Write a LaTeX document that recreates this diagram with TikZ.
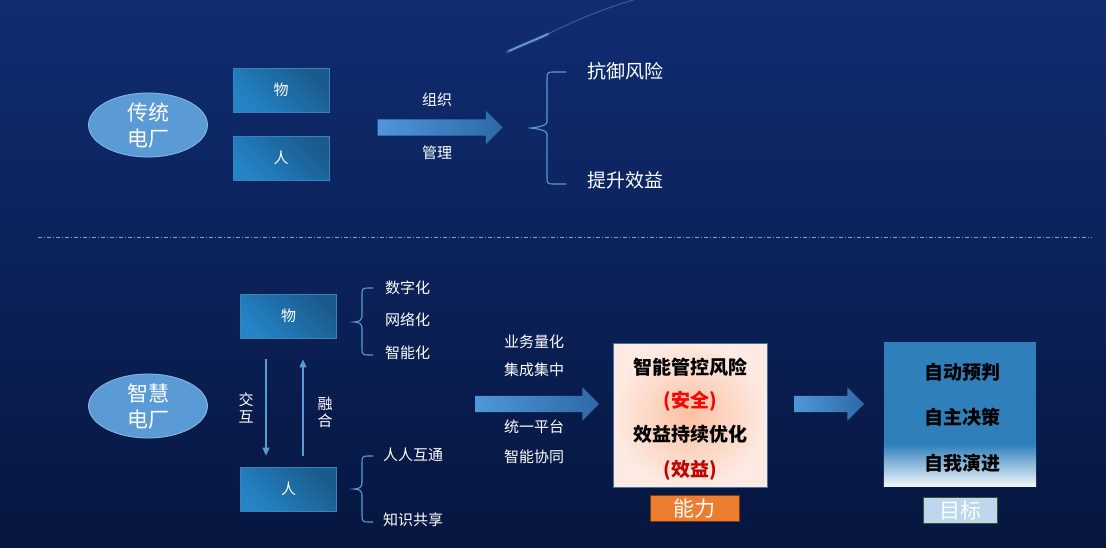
\documentclass[tikz,border=0pt]{standalone}
\usepackage{fontspec}
\setmainfont{Noto Sans CJK SC}
\usetikzlibrary{shapes.geometric,shapes.arrows,arrows.meta}

\definecolor{bgtop}{HTML}{102D72}
\definecolor{bgmid}{HTML}{0B2360}
\definecolor{bgbot}{HTML}{06163F}
\definecolor{ovalblue}{HTML}{5B9BD5}
\definecolor{ovaledge}{HTML}{8DB8E4}
\definecolor{boxlight}{HTML}{2484C6}
\definecolor{boxdark}{HTML}{1A5A8C}
\definecolor{boxedge}{HTML}{3F7FBA}
\definecolor{arrlight}{HTML}{4F97D8}
\definecolor{arrdark}{HTML}{2D68A6}
\definecolor{bracecol}{HTML}{5B9BD5}
\definecolor{peachin}{HTML}{FCC1A3}
\definecolor{peachout}{HTML}{FDEAE2}
\definecolor{peachedge}{HTML}{4A70A0}
\definecolor{goalblue}{HTML}{2E7FBA}
\definecolor{goalfade}{HTML}{F2F6FB}
\definecolor{orangelab}{HTML}{ED7D31}
\definecolor{orangeedge}{HTML}{7A3A10}
\definecolor{paleblue}{HTML}{BDD7EE}
\definecolor{greenedge}{HTML}{385723}
\definecolor{darkredtxt}{HTML}{C00000}
\definecolor{septxt}{HTML}{6FA8DC}

\newcommand{\fs}[1]{\fontsize{#1}{#1}\selectfont}
\newcommand{\fsl}[2]{\fontsize{#1}{#2}\selectfont}
% curly bracket opening to the right: end x, spine x, tip x, top y, tip y, bottom y
\newcommand{\curlbrace}[6]{%
  (#1,#4) -- ({#2+6},#4) .. controls ({#2+1},#4) and (#2,{#4+1}) .. (#2,{#4+6})
  -- (#2,{#5-6}) .. controls (#2,{#5-2}) and ({#3+5},#5) .. (#3,#5)
  .. controls ({#3+5},#5) and (#2,{#5+2}) .. (#2,{#5+6})
  -- (#2,{#6-6}) .. controls (#2,{#6-1}) and ({#2+1},#6) .. ({#2+6},#6) -- (#1,#6)}

\begin{document}
\begin{tikzpicture}[x=1pt, y=-1pt,
  plant/.style={ellipse, fill=ovalblue, draw=ovaledge, line width=0.8pt,
    minimum width=119pt, minimum height=57pt, inner sep=0pt,
    text=white, font=\fsl{21}{26}, align=center},
  thingbox/.style={rectangle, draw=boxedge, line width=0.8pt,
    top color=boxdark, bottom color=boxlight, shading angle=-45,
    minimum width=96pt, minimum height=44pt, text=white, font=\fs{15}},
  bigarrow/.style={single arrow, single arrow head extend=8.5pt,
    inner xsep=0pt, inner ysep=8pt, minimum width=33pt,
    left color=arrlight, right color=arrdark, draw=none},
  wtxt/.style={text=white, font=\fs{15}, inner sep=0pt},
  btxt/.style={text=black, font=\bfseries\fs{19}, inner sep=0pt},
  brc/.style={draw=bracecol, line width=1.1pt},
  thinarr/.style={draw=ovalblue, line width=1.1pt, -{Triangle[width=7pt,length=8pt]}},
  tag/.style={rectangle, line width=0.8pt, minimum width=#1, minimum height=26pt,
    inner sep=0pt, text=white, font=\fs{21}}
]
\useasboundingbox (0,0) rectangle (1106,547);
% background
\shade[top color=bgtop, middle color=bgmid, bottom color=bgbot] (0,0) rectangle (1106,547);
\draw[line width=1pt, draw=ovaledge, opacity=0.35] (540,38) .. controls (575,20) and (605,8) .. (640,-2);
\draw[line width=3.5pt, draw=ovalblue, opacity=0.3, line cap=round] (507,52) .. controls (522,45) and (535,40) .. (548,34);
\draw[line width=1.4pt, draw=ovaledge, opacity=0.8, line cap=round] (509,51) .. controls (522,45) and (535,40) .. (548,34);

%% traditional plant
\node[plant] (plantA) at (148,125) {传统\\电厂};
\node[thingbox] (wuA) at (281,90) {物};
\node[thingbox] (renA) at (281,158) {人};
\node[bigarrow, minimum height=125pt] (arrA) at (436,127.5) {};
\node[wtxt] (orgA) at (437,100) {组织};
\node[wtxt] (mgtA) at (437,153) {管理};
\draw[brc] \curlbrace{566}{547}{529}{72}{128}{184};
\node[wtxt, font=\fs{19}] (riskA) at (625,71) {抗御风险};
\node[wtxt, font=\fs{19}] (gainA) at (625,180) {提升效益};

% separator
\draw[draw=septxt, line width=0.8pt, dash pattern=on 4pt off 2pt on 1pt off 2pt] (38,237) -- (1092,237);

%% smart plant
\node[plant] (plantB) at (148,406) {智慧\\电厂};
\node[thingbox] (wuB) at (288.5,316) {物};
\node[thingbox] (renB) at (288.5,489) {人};
\draw[thinarr] ([xshift=-22.5pt,yshift=-21pt]wuB.south) -- ([xshift=-22.5pt,yshift=11pt]renB.north);
\draw[thinarr] ([xshift=14.5pt,yshift=11pt]renB.north) -- ([xshift=14.5pt,yshift=-21pt]wuB.south);
\node[wtxt, font=\fsl{15}{17}, align=center] (jiaohu) at (246,408) {交\\互};
\node[wtxt, font=\fsl{15}{17}, align=center] (ronghe) at (325,412) {融\\合};

\draw[brc] \curlbrace{373}{362}{354}{288}{322}{355};
\node[wtxt, anchor=west] (digi) at (385,288) {数字化};
\node[wtxt, anchor=west] (netw) at (385,320) {网络化};
\node[wtxt, anchor=west] (intel) at (385,353) {智能化};
\draw[brc] \curlbrace{373}{362}{354}{456}{489}{522};
\node[wtxt, anchor=west] (talk) at (383,455) {人人互通};
\node[wtxt, anchor=west] (share) at (383,520) {知识共享};

\node[wtxt] (quant) at (534,342) {业务量化};
\node[wtxt] (integ) at (534,370) {集成集中};
\node[bigarrow, minimum height=124pt] (arrB) at (533,404) {};
\node[wtxt] (platf) at (534,427) {统一平台};
\node[wtxt] (coop) at (534,457) {智能协同};

% ability
\node[rectangle, draw=peachedge, line width=0.6pt, inner color=peachin, outer color=peachout,
  minimum width=154pt, minimum height=144pt] (ability) at (690,415) {};
\node[btxt] (ctrl) at (690,367) {智能管控风险};
\node[btxt, text=red] (safe) at (690,401) {(安全)};
\node[btxt] (optim) at (690,434) {效益持续优化};
\node[btxt, text=darkredtxt] (eff) at (690,470) {(效益)};
\node[tag=89pt, fill=orangelab, draw=orangeedge] (abilityLab) at (694.5,508.5) {能力};

\node[bigarrow, minimum height=70pt] (arrC) at (825,404) {};

% goal
\node[rectangle, fill=goalblue, minimum width=152pt, minimum height=144pt, inner sep=0pt] (goal) at (960,414) {};
\shade[top color=goalblue, bottom color=goalfade] ([yshift=-30pt]goal.west) rectangle (goal.south east);
\node[btxt] (predict) at (962,372) {自动预判};
\node[btxt] (decide) at (962,417) {自主决策};
\node[btxt] (evolve) at (962,463) {自我演进};
\node[tag=74pt, fill=paleblue, draw=greenedge] (goalLab) at (960,510) {目标};
\end{tikzpicture}
\end{document}
